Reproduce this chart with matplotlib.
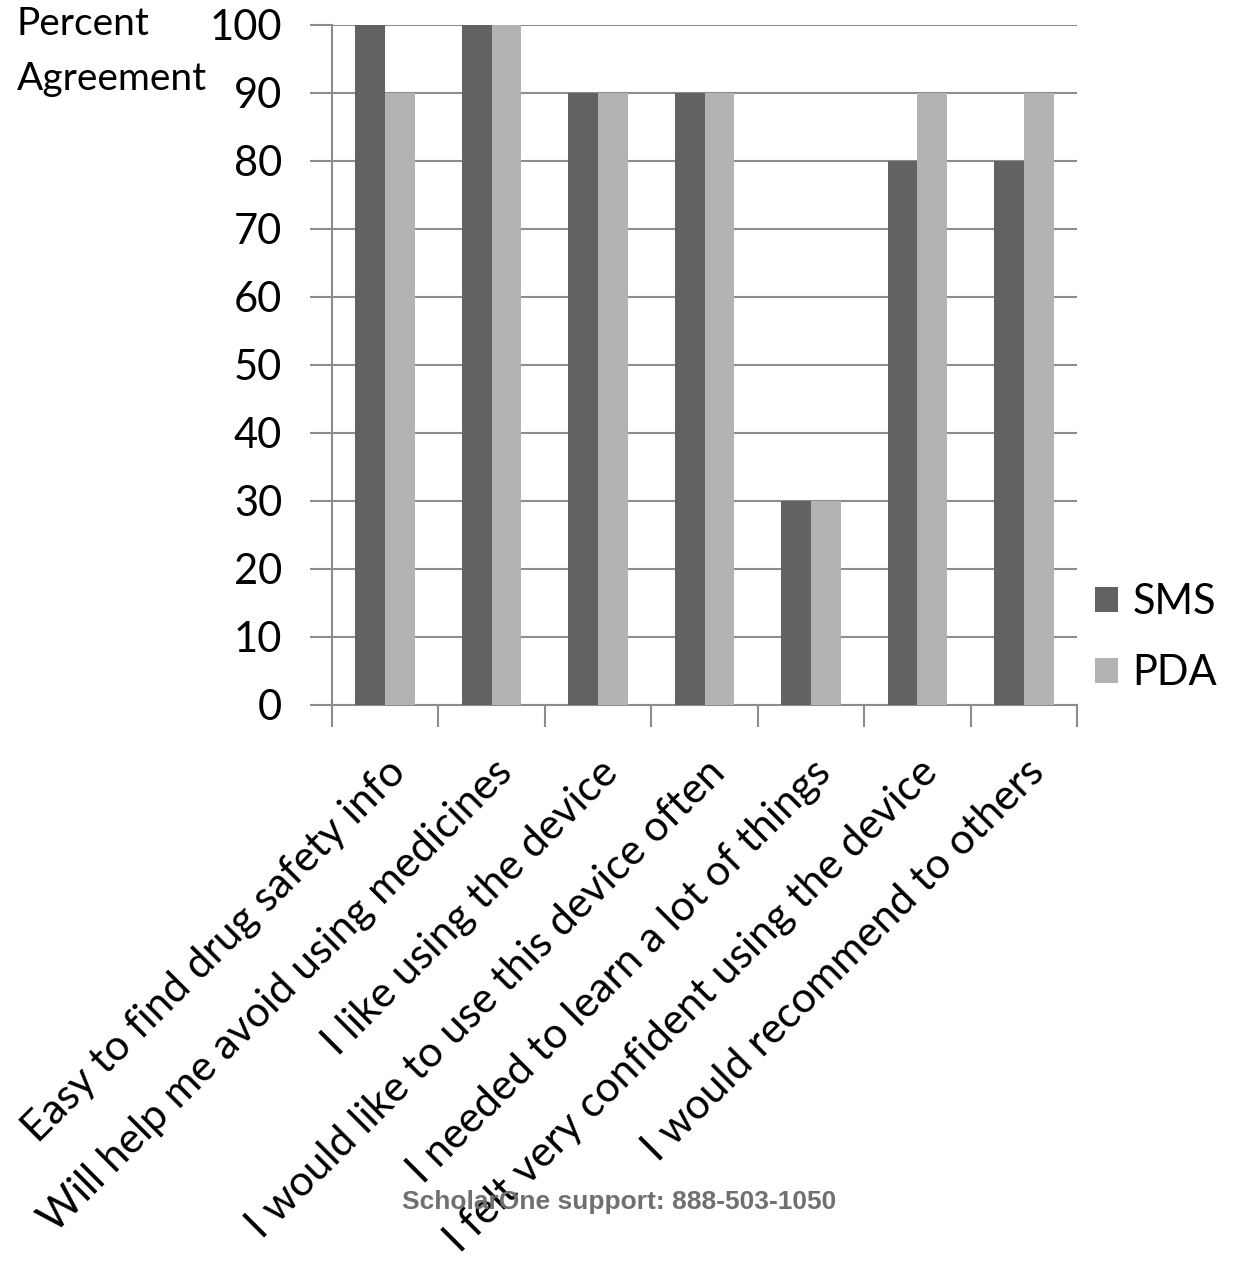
import matplotlib.pyplot as plt
import numpy as np

plt.rcParams['font.family'] = ['Lato', 'DejaVu Sans']

statements = [
    "Easy to find drug safety info",
    "Will help me avoid using medicines",
    "I like using the device",
    "I would like to use this device often",
    "I needed to learn a lot of things",
    "I felt very confident using the device",
    "I would recommend to others",
]
sms = [100, 100, 90, 90, 30, 80, 80]
pda = [90, 100, 90, 90, 30, 90, 90]
yticks = list(range(0, 101, 10))

W, H = 1256, 1266
fig = plt.figure(figsize=(W / 100, H / 100), dpi=100)
ax = fig.add_axes([332 / W, 1 - 705 / H, 745 / W, 680 / H])

x = np.arange(len(statements))
w = 0.28
ax.bar(x - w / 2, sms, w, color="#626262", label="SMS", zorder=3)
ax.bar(x + w / 2, pda, w, color="#b3b3b3", label="PDA", zorder=3)

ax.set_xlim(-0.5, len(statements) - 0.5)
ax.set_ylim(0, 100)
ax.set_yticks(yticks)
ax.grid(axis="y", color="#8c8c8c", linewidth=1.5, zorder=0)
ax.tick_params(axis="y", labelsize=30, length=16, width=1.5, color="#8c8c8c", pad=20)

# category boundaries carry the x ticks
ax.set_xticks(np.arange(len(statements) + 1) - 0.5)
ax.set_xticklabels([])
ax.tick_params(axis="x", length=16, width=1.5, color="#8c8c8c")
for i, s in enumerate(statements):
    ax.annotate(s, xy=(i, 0), xycoords=("data", "axes fraction"),
                xytext=(10, -44), textcoords="offset points",
                rotation=45, ha="right", va="center", rotation_mode="anchor",
                fontsize=30.5)

for side in ["top", "right"]:
    ax.spines[side].set_visible(False)
for side in ["left", "bottom"]:
    ax.spines[side].set_color("#8c8c8c")
    ax.spines[side].set_linewidth(1.5)

fig.text(17 / W, 1 - 35 / H, "Percent", fontsize=28, ha="left", va="baseline")
fig.text(17 / W, 1 - 90 / H, "Agreement", fontsize=28, ha="left", va="baseline")

ax.legend(loc="center left", bbox_to_anchor=(1.024, 0.099), frameon=False,
          fontsize=30, borderpad=0, borderaxespad=0,
          handlelength=0.55, handleheight=0.55, handletextpad=0.35,
          labelspacing=0.8)

fig.text(619 / W, 1 - 1202 / H, "ScholarOne support: 888-503-1050",
         family="Liberation Sans", weight="bold", fontsize=19, color="#707070",
         ha="center", va="center")

fig.savefig("out.png", dpi=100)
